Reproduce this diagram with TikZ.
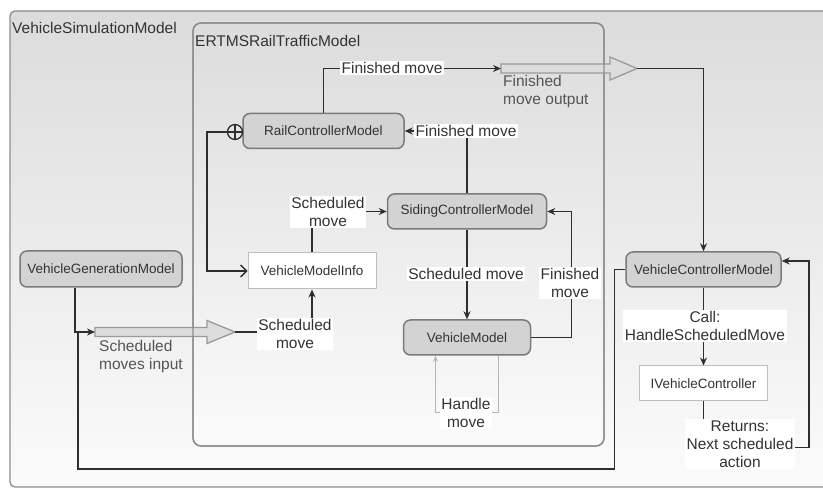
\documentclass[tikz,border=0pt]{standalone}
\usepackage{fontspec}
\setmainfont{Liberation Sans}
\usetikzlibrary{arrows.meta,calc}
\definecolor{ln}{HTML}{2E2E2E}
\definecolor{txt}{HTML}{333333}
\definecolor{gtxt}{HTML}{555555}
\definecolor{nodefill}{HTML}{D3D3D3}
\definecolor{nodeborder}{HTML}{7A7A7A}
\definecolor{boxborder}{HTML}{8C8C8C}
\definecolor{boxtop}{HTML}{DCDCDC}
\definecolor{boxbot}{HTML}{FBFBFB}
\definecolor{infoborder}{HTML}{BDBDBD}
\definecolor{arrfill}{HTML}{DDDDDD}
\definecolor{arrborder}{HTML}{9A9A9A}
\definecolor{handle}{HTML}{B5B5B5}
\newcommand\myNodeFont{\fontsize{13.5}{16}\selectfont}
\newcommand\myLabelFont{\fontsize{15.5}{18}\selectfont}
\tikzset{
  model/.style={draw=nodeborder, fill=nodefill, line width=1.5pt, rounded corners=7pt,
    font=\myNodeFont, text=txt, inner sep=0pt, minimum height=35pt},
  info/.style={draw=infoborder, fill=white, line width=1pt,
    font=\myNodeFont, text=txt, inner sep=0pt, minimum height=36pt},
  conn/.style={draw=ln, line width=1.3pt},
  tip/.style={-{Stealth[length=8pt,width=7pt]}},
  opentip/.style={-{Straight Barb[length=6pt,width=12pt]}},
  lbl/.style={fill=white, font=\myLabelFont, text=txt, align=center, inner sep=1.5pt},
  glbl/.style={font=\myLabelFont, text=gtxt, align=left, inner sep=0pt, anchor=west},
  bigarr/.style={fill=arrfill, draw=arrborder, line width=1.3pt, line join=miter},
  boxstyle/.style={draw=boxborder, line width=1.3pt, top color=boxtop, bottom color=boxbot},
  titlelbl/.style={font=\myLabelFont, text=txt, inner sep=0pt, anchor=west}
}
\begin{document}
\begin{tikzpicture}[x=1pt,y=-1pt]
\clip (0,0) rectangle (823,489);
\fill[white] (0,0) rectangle (823,489);
% outer container
\path[boxstyle, rounded corners=5pt] (10,11) rectangle (840,487);
\node[titlelbl] (simtitle) at (12,28) {VehicleSimulationModel};
% inner container
\path[boxstyle, rounded corners=8pt] (193,23) rectangle (604,446);
\node[titlelbl] (rttitle) at (195,41) {ERTMSRailTrafficModel};
% big arrows
\draw[bigarr] (95,327.5) -- (207,327.5) -- (207,320.5) -- (235,332) -- (207,343.5) -- (207,336.5) -- (95,336.5) -- cycle;
\coordinate (intail) at (95,332);
\coordinate (intip) at (235,332);
\draw[bigarr] (501,64) -- (610,64) -- (610,57) -- (637,68.5) -- (610,80) -- (610,73) -- (501,73) -- cycle;
\coordinate (outtail) at (501,68.5);
\coordinate (outtip) at (637,68.5);
% inner border over the arrows
\draw[draw=boxborder, line width=1.3pt, rounded corners=8pt] (193,23) rectangle (604,446);

% nodes
\node[model, minimum width=161pt] (rcm) at (323.5,131) {RailControllerModel};
\node[model, minimum width=159pt] (scm) at (467,211.5) {SidingControllerModel};
\node[info, minimum width=128pt] (vmi) at (312,271) {VehicleModelInfo};
\node[model, minimum width=162pt, minimum height=36pt] (vgm) at (101,269) {VehicleGenerationModel};
\node[model, minimum width=127pt] (vm) at (467,337.5) {VehicleModel};
\node[model, minimum width=155pt] (vcm) at (703.5,269.5) {VehicleControllerModel};
\node[info, minimum width=128pt, minimum height=35pt] (ivc) at (703.5,383.5) {IVehicleController};
\node[circle, draw=ln, line width=1.3pt, minimum size=15pt, inner sep=0pt,
  path picture={\draw[ln, line width=1.2pt] (path picture bounding box.north) -- (path picture bounding box.south)
  (path picture bounding box.west) -- (path picture bounding box.east);}] (cp) at (235,132) {};

% connectors
\draw[conn, tip] (rcm.north) |- (outtail);
\draw[conn, tip] (outtip) -| (vcm.north);
\draw[conn, tip] (scm.north) |- (rcm.east);
\draw[conn, opentip] (cp.west) -- ++(-20,0) |- (vmi.west);
\draw[conn, tip] (vmi.north) |- (scm.west);
\draw[conn, tip] (scm.south) -- (vm.north);
\draw[conn, tip] (vm.east) -- ++(40,0) |- (scm.east);
\draw[draw=handle, line width=1pt, -{Stealth[length=6pt,width=5pt]}] ([xshift=31.5pt]vm.south) -- ++(0,57) -| ([xshift=-31.5pt]vm.south);
\draw[conn, tip] ([xshift=-26pt]vgm.south) |- (intail);
\draw[conn, tip] (intip) -| (vmi.south);
\draw[conn, tip] (vcm.south) -- (ivc.north);
\draw[conn, tip] (ivc.south) |- ++(105.5,46) |- ([yshift=8.5pt]vcm.east);
\coordinate (loopcorner) at (78,469);
\coordinate (join) at (78,332);
\draw[conn] (vcm.west) -- ++(-11,0) |- (loopcorner) -- (join);

% labels
\node[lbl] (l1) at (392,68) {Finished move};
\node[lbl] (l2) at (466,131) {Finished move};
\node[lbl] (l3) at (328,212) {Scheduled\\move};
\node[lbl] (l4) at (466,274) {Scheduled move};
\node[lbl] (l5) at (570,283) {Finished\\move};
\node[lbl] (l6) at (466,413) {Handle\\move};
\node[lbl] (l7) at (295,334) {Scheduled\\move};
\node[lbl] (l8) at (705,326) {Call:\\HandleScheduledMove};
\node[lbl] (l9) at (740,444) {Returns:\\Next scheduled\\action};
\node[glbl] (l10) at (503,91) {Finished\\move output};
\node[glbl] (l11) at (99,356) {Scheduled\\moves input};
\end{tikzpicture}
\end{document}
